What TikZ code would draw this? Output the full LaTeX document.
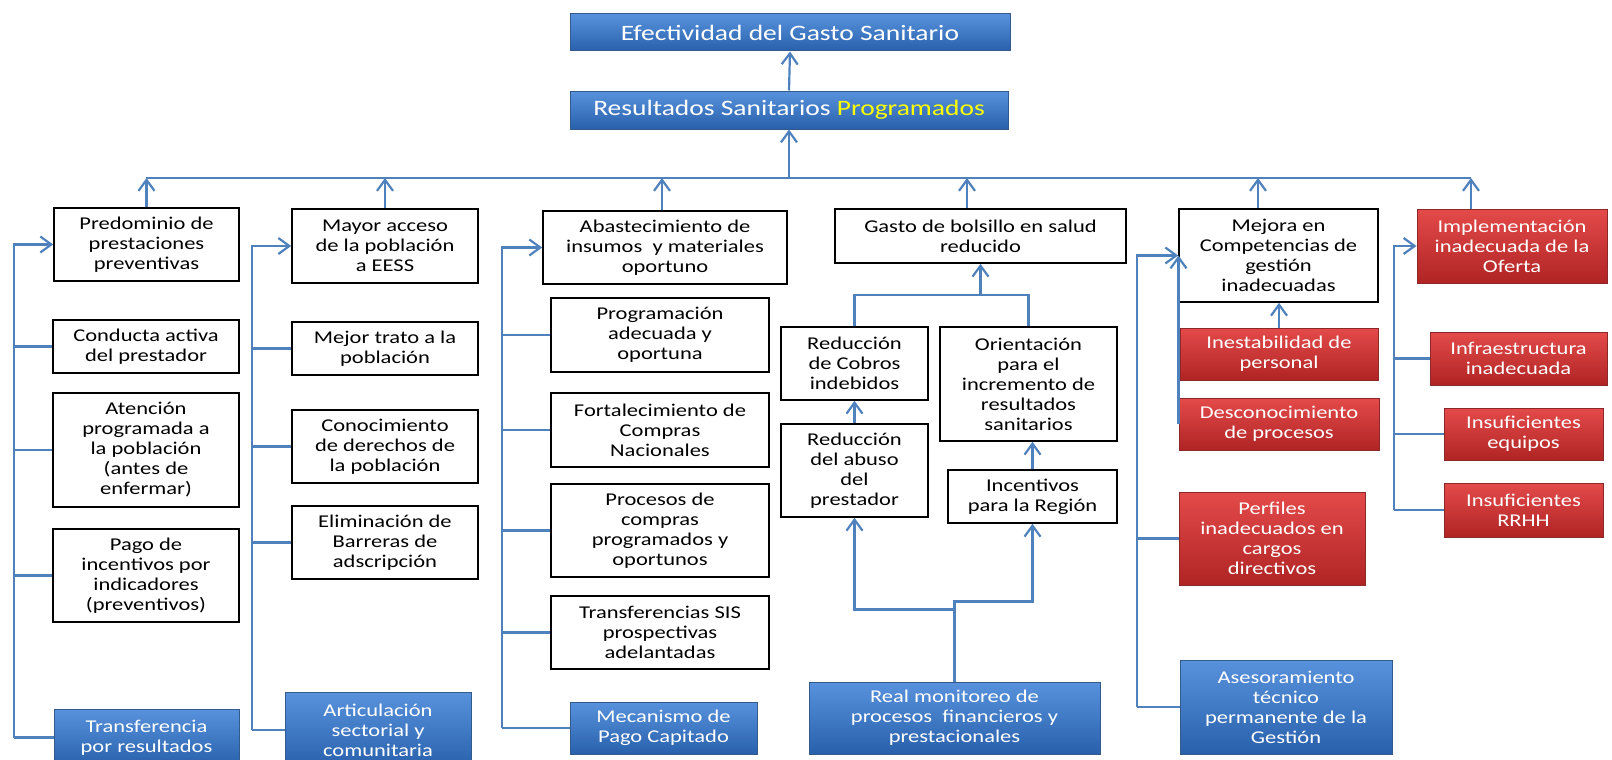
\documentclass[tikz,border=0pt]{standalone}
\usepackage{fontspec}
\setmainfont{Carlito}[FakeStretch=1.25]
\usetikzlibrary{arrows.meta}
\definecolor{linkblue}{RGB}{79,129,189}
\definecolor{bluetop}{RGB}{88,146,220}
\definecolor{bluebot}{RGB}{40,96,172}
\definecolor{blueedge}{RGB}{52,90,140}
\definecolor{redtop}{RGB}{228,74,74}
\definecolor{redbot}{RGB}{176,36,36}
\definecolor{rededge}{RGB}{140,40,40}
\definecolor{progyellow}{RGB}{255,255,0}

\begin{document}
\begin{tikzpicture}[x=1pt,y=-1pt,
  box/.style={draw=black,line width=1.6pt,fill=white,align=center,inner sep=2pt,font=\fontsize{18}{20}\selectfont},
  bluebox/.style={draw=blueedge,line width=1pt,top color=bluetop,bottom color=bluebot,text=white,align=center,inner sep=2pt,font=\fontsize{18}{20}\selectfont},
  redbox/.style={draw=rededge,line width=1pt,top color=redtop,bottom color=redbot,text=white,align=center,inner sep=2pt,font=\fontsize{18}{20}\selectfont},
  head/.style={bluebox,font=\fontsize{22}{24}\selectfont},
  link/.style={draw=linkblue,line width=2.2pt},
  up/.style={link,-{Straight Barb[length=11pt,width=16pt]}}]
\useasboundingbox (0,0) rectangle (1612,760);
\node[head,minimum width=440pt,minimum height=37pt] (efect) at (790,32.5) {Efectividad del Gasto Sanitario};
\node[head,minimum width=438pt,minimum height=38pt] (result) at (789,110) {Resultados Sanitarios {\color{progyellow}Programados}};
\node[box,minimum width=185pt,minimum height=73pt] (predom) at (146.5,244.5) {Predominio de\\prestaciones\\preventivas};
\node[box,minimum width=186pt,minimum height=74pt] (mayor) at (385,246) {Mayor acceso\\de la población\\a EESS};
\node[box,minimum width=244pt,minimum height=73pt] (abast) at (665,247.5) {Abastecimiento de\\insumos\ \ y materiales\\oportuno};
\node[box,minimum width=291pt,minimum height=54pt] (gasto) at (980.5,236) {Gasto de bolsillo en salud\\reducido};
\node[box,minimum width=199pt,minimum height=93pt] (mejora) at (1278.5,255.5) {Mejora en\\Competencias de\\gestión\\inadecuadas};
\node[redbox,minimum width=190pt,minimum height=74pt] (implem) at (1512,246) {Implementación\\inadecuada de la\\Oferta};
\node[box,minimum width=186pt,minimum height=53pt] (conducta) at (146,346.5) {Conducta activa\\del prestador};
\node[box,minimum width=186pt,minimum height=114pt] (atencion) at (146,450) {Atención\\programada a\\la población\\(antes de\\enfermar)};
\node[box,minimum width=186pt,minimum height=93pt] (pago) at (146,575.5) {Pago de\\incentivos por\\indicadores\\(preventivos)};
\node[bluebox,minimum width=185pt,minimum height=57pt] (transf) at (146.5,737.5) {Transferencia\\por resultados};
\node[box,minimum width=186pt,minimum height=53pt] (trato) at (385,348.5) {Mejor trato a la\\población};
\node[box,minimum width=186pt,minimum height=73pt] (conoc) at (385,446.5) {Conocimiento\\de derechos de\\la población};
\node[box,minimum width=186pt,minimum height=73pt] (elimin) at (385,542.5) {Eliminación de\\Barreras de\\adscripción};
\node[bluebox,minimum width=186pt,minimum height=76pt] (artic) at (378,730) {Articulación\\sectorial y\\comunitaria};
\node[box,minimum width=218pt,minimum height=74pt] (progr) at (660,335) {Programación\\adecuada y\\oportuna};
\node[box,minimum width=218pt,minimum height=74pt] (fortal) at (660,430) {Fortalecimiento de\\Compras\\Nacionales};
\node[box,minimum width=218pt,minimum height=93pt] (proces) at (660,530.5) {Procesos de\\compras\\programados y\\oportunos};
\node[box,minimum width=218pt,minimum height=73pt] (transis) at (660,632.5) {Transferencias SIS\\prospectivas\\adelantadas};
\node[bluebox,minimum width=187pt,minimum height=52pt] (mecan) at (663.5,728) {Mecanismo de\\Pago Capitado};
\node[box,minimum width=147pt,minimum height=73pt] (cobros) at (854.5,363.5) {Reducción\\de Cobros\\indebidos};
\node[box,minimum width=177pt,minimum height=114pt] (orient) at (1028.5,384) {Orientación\\para el\\incremento de\\resultados\\sanitarios};
\node[box,minimum width=147pt,minimum height=93pt] (abuso) at (854.5,470.5) {Reducción\\del abuso\\del\\prestador};
\node[box,minimum width=169pt,minimum height=53pt] (incent) at (1032.5,496.5) {Incentivos\\para la Región};
\node[bluebox,minimum width=291pt,minimum height=72pt] (monit) at (954.5,718) {Real monitoreo de\\procesos\ \ financieros y\\prestacionales};
\node[redbox,minimum width=198pt,minimum height=52pt] (inest) at (1279,354) {Inestabilidad de\\personal};
\node[redbox,minimum width=200pt,minimum height=52pt] (descon) at (1279,424) {Desconocimiento\\de procesos};
\node[redbox,minimum width=186pt,minimum height=93pt] (perfil) at (1272,538.5) {Perfiles\\inadecuados en\\cargos\\directivos};
\node[bluebox,minimum width=212pt,minimum height=94pt] (asesor) at (1286,707) {Asesoramiento\\técnico\\permanente de la\\Gestión};
\node[redbox,minimum width=177pt,minimum height=53pt] (infra) at (1518.5,358.5) {Infraestructura\\inadecuada};
\node[redbox,minimum width=159pt,minimum height=52pt] (equip) at (1523.5,434) {Insuficientes\\equipos};
\node[redbox,minimum width=159pt,minimum height=54pt] (rrhh) at (1523.5,510) {Insuficientes\\RRHH};
\coordinate (busL) at (146,178);
\coordinate (busR) at (1471,178);
\coordinate (f1) at (14,0);
\coordinate (f2) at (252,0);
\coordinate (f3) at (502,0);
\coordinate (f5) at (1137,0);
\coordinate (f6) at (1394,0);
\coordinate (g1) at (980.5,295);
\draw[up] (result.north) -- (efect.south);
\draw[up] (result.south |- busL) -- (result.south);
\draw[link] (busL) -- (busR);
\draw[up] (predom.north) -- (predom.north |- busL);
\draw[up] (mayor.north) -- (mayor.north |- busL);
\draw[up] ([xshift=-3pt]abast.north) -- ([xshift=-3pt]abast.north |- busL);
\draw[up] ([xshift=-13.5pt]gasto.north) -- ([xshift=-13.5pt]gasto.north |- busL);
\draw[up] ([xshift=-20.5pt]mejora.north) -- ([xshift=-20.5pt]mejora.north |- busL);
\draw[up] ([xshift=-41pt]implem.north) -- ([xshift=-41pt]implem.north |- busL);
\draw[up] (f1 |- transf.west) -- (f1 |- predom.west) -- (predom.west);
\draw[link] (f1 |- conducta.west) -- (conducta.west);
\draw[link] (f1 |- atencion.west) -- (atencion.west);
\draw[link] (f1 |- pago.west) -- (pago.west);
\draw[link] (f1 |- transf.west) -- (transf.west);
\draw[up] (f2 |- artic.west) -- (f2 |- mayor.west) -- (mayor.west);
\draw[link] (f2 |- trato.west) -- (trato.west);
\draw[link] (f2 |- conoc.west) -- (conoc.west);
\draw[link] (f2 |- elimin.west) -- (elimin.west);
\draw[link] (f2 |- artic.west) -- (artic.west);
\draw[up] (f3 |- mecan.west) -- (f3 |- abast.west) -- (abast.west);
\draw[link] (f3 |- progr.west) -- (progr.west);
\draw[link] (f3 |- fortal.west) -- (fortal.west);
\draw[link] (f3 |- proces.west) -- (proces.west);
\draw[link] (f3 |- transis.west) -- (transis.west);
\draw[link] (f3 |- mecan.west) -- (mecan.west);
\draw[link] (cobros.north) |- (g1) -| (orient.north);
\draw[up] (g1) -- (gasto.south);
\draw[up] (abuso.north) -- (cobros.south);
\draw[up] (incent.north) -- (incent.north |- orient.south);
\draw[up] (monit.north) -- ++(0,-72) -| (abuso.south);
\draw[up] (monit.north) -- ++(0,-80) -| (incent.south);
\draw[up] (f5 |- asesor.west) -- (f5 |- mejora.west) -- (mejora.west);
\draw[link] (f5 |- perfil.west) -- (perfil.west);
\draw[link] (f5 |- asesor.west) -- (asesor.west);
\draw[up] (descon.west) -- (descon.west |- mejora.west);
\draw[up] (inest.north) -- (inest.north |- mejora.south);
\draw[up] (f6 |- rrhh.west) -- (f6 |- implem.west) -- (implem.west);
\draw[link] (f6 |- infra.west) -- (infra.west);
\draw[link] (f6 |- equip.west) -- (equip.west);
\draw[link] (f6 |- rrhh.west) -- (rrhh.west);
\end{tikzpicture}
\end{document}
